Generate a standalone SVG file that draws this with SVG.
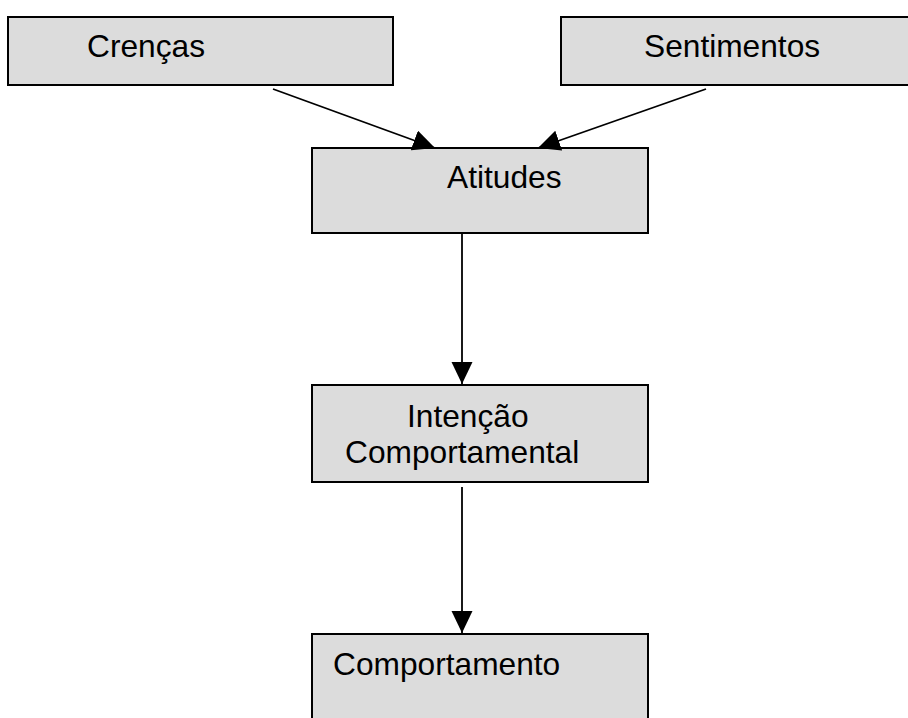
<svg xmlns="http://www.w3.org/2000/svg" width="908" height="718" viewBox="0 0 908 718">
  <style>
    .box { fill: #dcdcdc; stroke: #000; stroke-width: 2; }
    .label { font-family: "Liberation Sans", Arial, sans-serif; font-size: 31.7px; fill: #000; }
    .edge { stroke: #000; stroke-width: 1.8; fill: none; marker-end: url(#arrow); }
  </style>
  <defs>
    <marker id="arrow" markerUnits="userSpaceOnUse" markerWidth="23" markerHeight="22" refX="22" refY="10.5" orient="auto">
      <path d="M0,0 L22,10.5 L0,21 Z" fill="#000"/>
    </marker>
  </defs>
  <rect width="908" height="718" fill="#fff"/>

  <g id="crencas">
    <rect class="box" x="8" y="17" width="385" height="68"/>
    <text class="label" x="87" y="57">Crenças</text>
  </g>

  <g id="sentimentos">
    <rect class="box" x="561" y="17" width="360" height="68"/>
    <text class="label" x="644" y="57">Sentimentos</text>
  </g>

  <g id="atitudes">
    <rect class="box" x="312" y="148" width="336" height="85"/>
    <text class="label" x="447" y="188">Atitudes</text>
  </g>

  <g id="intencao">
    <rect class="box" x="312" y="385" width="336" height="97"/>
    <text class="label" x="407" y="427">Intenção</text>
    <text class="label" x="345" y="463">Comportamental</text>
  </g>

  <g id="comportamento">
    <rect class="box" x="312" y="634" width="336" height="100"/>
    <text class="label" x="333" y="675">Comportamento</text>
  </g>

  <g id="connectors">
    <line class="edge" x1="273" y1="89" x2="435" y2="148"/>
    <line class="edge" x1="706" y1="89" x2="538" y2="148"/>
    <line class="edge" x1="462" y1="234" x2="462" y2="384"/>
    <line class="edge" x1="462" y1="487" x2="462" y2="633"/>
  </g>
</svg>
